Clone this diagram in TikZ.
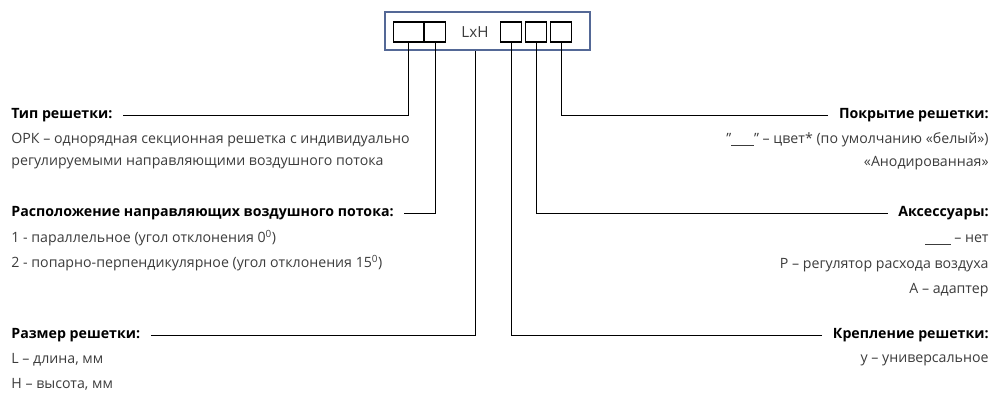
\documentclass[tikz,border=0pt]{standalone}
\usepackage{fontspec}
\setmainfont{Open Sans}
\definecolor{framebl}{RGB}{84,104,150}
\definecolor{txtgr}{RGB}{60,60,60}
\begin{document}
\begin{tikzpicture}[
        x=0.03cm, y=-0.03cm,
        frame/.style={draw=framebl, line width=2pt, minimum width=6.15cm, minimum height=1.14cm},
        cell/.style={draw, line width=1pt, minimum width=0.62cm, minimum height=0.6cm, inner sep=0pt},
        wcell/.style={cell, minimum width=0.9cm},
        title/.style={font=\bfseries, text=black, inner sep=1pt},
        body/.style={text=txtgr, inner sep=1pt},
        lead/.style={line width=0.6pt}
    ]
        \useasboundingbox (0,0) rectangle (999,401);
        \fontsize{12.1}{14}\selectfont

        % code frame
        \node[frame] (frame) at (487.5,31) {};
        \node[wcell] (c1) at (408.5,32) {};
        \node[cell] (c2) at (435,32) {};
        \node[text=txtgr, font=\fontsize{13}{15}\selectfont] (lxh) at (475,32) {LxH};
        \node[cell] (c3) at (511,32) {};
        \node[cell] (c4) at (536,32) {};
        \node[cell] (c5) at (561,32) {};

        % left column
        \node[title, anchor=west] (tip) at (10,115) {Тип решетки:};
        \node[body, anchor=west] at (10,140) {ОРК -- однорядная секционная решетка с индивидуально};
        \node[body, anchor=west] at (10,163) {регулируемыми направляющими воздушного потока};
        \node[title, anchor=west] (ras) at (10,213) {Расположение направляющих воздушного потока:};
        \node[body, anchor=west] at (10,238) {1 - параллельное (угол отклонения 0\textsuperscript{0})};
        \node[body, anchor=west] at (10,263) {2 - попарно-перпендикулярное (угол отклонения 15\textsuperscript{0})};
        \node[title, anchor=west] (raz) at (10,335) {Размер решетки:};
        \node[body, anchor=west] at (10,360) {L -- длина, мм};
        \node[body, anchor=west] at (10,384) {H -- высота, мм};

        % right column
        \node[title, anchor=east] (pok) at (990,115) {Покрытие решетки:};
        \node[body, anchor=east] at (990,140) {\char"22\underline{\hspace{1.6em}}\char"22{} -- цвет* (по умолчанию «белый»)};
        \node[body, anchor=east] at (990,163) {«Анодированная»};
        \node[title, anchor=east] (aks) at (990,213) {Аксессуары:};
        \node[body, anchor=east] at (990,240) {\underline{\hspace{1.8em}} -- нет};
        \node[body, anchor=east] at (990,265) {Р -- регулятор расхода воздуха};
        \node[body, anchor=east] at (990,290) {А -- адаптер};
        \node[title, anchor=east] (kre) at (990,335) {Крепление решетки:};
        \node[body, anchor=east] at (990,360) {у -- универсальное};

        % leaders
        \draw[lead] ([xshift=8pt]tip.east) -| (c1.south);
        \draw[lead] ([xshift=8pt]ras.east) -| (c2.south);
        \draw[lead] ([xshift=8pt]raz.east) -| (lxh.south |- frame.south);
        \draw[lead] ([xshift=-8pt]pok.west) -| (c5.south);
        \draw[lead] ([xshift=-8pt]aks.west) -| (c4.south);
        \draw[lead] ([xshift=-8pt]kre.west) -| (c3.south);
    \end{tikzpicture}
\end{document}
